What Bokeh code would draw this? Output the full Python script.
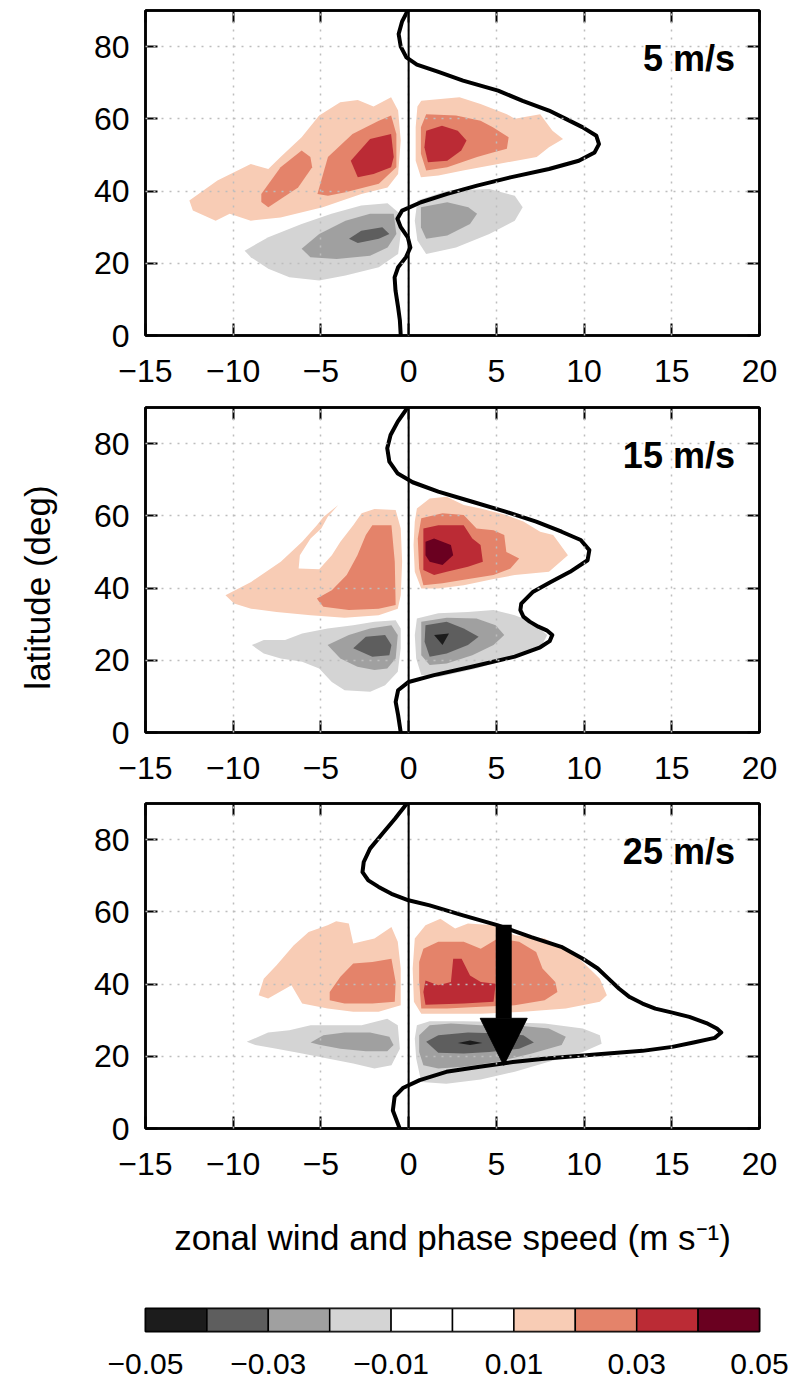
from bokeh.plotting import figure
from bokeh.models import FixedTicker, LinearAxis, Span, Label, Arrow, NormalHead, Range1d
from bokeh.layouts import column
from bokeh.embed import file_html
from bokeh.resources import INLINE

FONT = "Liberation Sans"

# ---------------- data ----------------
X_TICKS = [-15, -10, -5, 0, 5, 10, 15, 20]
X_TICK_LABELS = ["\u221215", "\u221210", "\u22125", "0", "5", "10", "15", "20"]
Y_TICKS = [0, 20, 40, 60, 80]
Y_TICK_LABELS = ["0", "20", "40", "60", "80"]

LEVELS = [-0.05, -0.04, -0.03, -0.02, -0.01, 0.0, 0.01, 0.02, 0.03, 0.04, 0.05]
LEVEL_COLORS = ["#1c1c1c", "#5e5e5e", "#a0a0a0", "#d4d4d4", "#ffffff",
                "#ffffff", "#f8ccb5", "#e4836a", "#bb2b35", "#6a0020"]
CB_TICKS = [-0.05, -0.03, -0.01, 0.01, 0.03, 0.05]
CB_TICK_LABELS = ["\u22120.05", "\u22120.03", "\u22120.01", "0.01", "0.03", "0.05"]

PANEL_LABELS = ["5 m/s", "15 m/s", "25 m/s"]
X_LABEL = "zonal wind and phase speed (m s\u207b\u00b9)"
Y_LABEL = "latitude (deg)"

# zonal-wind profiles (wind in m/s at latitude in deg)
U5_LAT = [90, 87, 83.5, 80, 77, 75, 73, 70.6, 67.8, 65, 62.3, 60, 57.7, 55.3, 53, 50.7,
          48.4, 46.1, 43.8, 41.5, 39.2, 36.9, 34.6, 32.3, 30, 27.2, 24.4, 21.7, 18.9,
          16.1, 12.5, 7.8, 4.2, 0]
U5_WIND = [-0.05, -0.37, -0.57, -0.45, -0.13, 0.47, 1.7, 3.1, 5.1, 6.5, 8.0, 8.96, 9.9,
           10.7, 10.85, 10.6, 9.7, 8.0, 5.8, 3.9, 2.2, 0.7, -0.37, -0.64, -0.45, -0.05,
           0.1, -0.15, -0.6, -0.8, -0.75, -0.6, -0.5, -0.45]

U15_LAT = [90, 86.1, 82.4, 78.7, 75, 71.7, 69.3, 66.7, 63.9, 61.1, 58.4, 55.6, 53.3,
           50.5, 47.7, 44.5, 41.7, 39, 35.7, 33.9, 32.1, 30.7, 29.3, 28.3, 27.0, 25.3,
           23.6, 21, 18.2, 15.9, 14, 11.7, 8.5, 4.8, 0]
U15_WIND = [-0.06, -0.62, -1.03, -1.22, -1.1, -0.62, 0.23, 1.69, 3.63, 5.57, 7.27, 8.72,
            9.81, 10.3, 10.2, 9.2, 8.1, 7.1, 6.42, 6.37, 6.54, 6.9, 7.39, 7.87, 8.19,
            8.04, 7.5, 6.05, 3.6, 1.45, 0.0, -0.6, -0.74, -0.6, -0.45]

U25_LAT = [90, 85.8, 81.6, 77.5, 73.8, 71.0, 68.7, 66.9, 65.0, 63.2, 61.8, 59.0, 56.3,
           53.0, 50.3, 47.0, 44.3, 41.5, 38.7, 36.4, 34.6, 33.2, 32.1, 30.9, 29.2, 27.7,
           26.6, 25.1, 23.8, 22.6, 21.5, 20.6, 19.4, 18.4, 17.1, 15.7, 13.4, 11.2, 8.8,
           5.0, 0]
U25_WIND = [-0.1, -0.78, -1.5, -2.2, -2.56, -2.63, -2.3, -1.71, -0.98, -0.01, 1.2, 3.1,
            5.05, 6.99, 8.7, 9.93, 10.78, 11.39, 12.0, 12.6, 13.33, 14.06, 15.03, 16.0,
            16.97, 17.57, 17.82, 17.45, 16.24, 15.03, 13.33, 11.0, 7.86, 5.94, 4.05, 2.15,
            0.63, -0.33, -0.8, -0.9, -0.51]

# contour regions (phase speed, latitude) for each shading band
U5_POS1 = [
    [(-12.5, 37.4), (-10.9, 42.9), (-9.0, 47.5), (-8.0, 46.1), (-7.3, 49.4), (-6.1, 54.9),
     (-5.1, 60.9), (-3.9, 64.6), (-2.9, 65.2), (-2.0, 63.4), (-1.0, 66.0), (-0.6, 62.3),
     (-0.45, 54.0), (-0.6, 44.7), (-1.2, 41.0), (-2.7, 39.2), (-4.9, 35.5), (-7.3, 32.7),
     (-9.0, 31.8), (-10.2, 33.7), (-11.0, 31.8), (-12.3, 34.6)],
    [(0.72, 65.0), (2.9, 66.0), (4.1, 64.1), (5.6, 61.3), (6.05, 60.0), (7.5, 61.3),
     (8.2, 56.7), (8.8, 54.4), (8.0, 52.1), (7.3, 49.4), (5.1, 47.5), (3.1, 45.7),
     (1.7, 44.3), (0.7, 43.8), (0.4, 48.4), (0.4, 57.7), (0.5, 63.4)],
]
U5_POS2 = [
    [(-8.4, 39.2), (-7.3, 46.6), (-6.1, 51.2), (-5.6, 49.4), (-5.5, 46.6), (-6.3, 41.0),
     (-8.0, 35.5), (-8.4, 37.0)],
    [(-5.2, 39.2), (-4.6, 49.4), (-3.2, 55.8), (-1.7, 59.5), (-1.0, 60.9), (-0.7, 55.8),
     (-0.7, 46.6), (-1.7, 42.0), (-3.6, 39.7), (-4.6, 38.7)],
    [(1.0, 61.3), (2.7, 60.9), (4.1, 59.5), (4.8, 57.7), (5.7, 54.9), (5.6, 51.7),
     (4.8, 50.7), (3.9, 49.4), (2.2, 46.6), (1.0, 45.7), (0.7, 50.3), (0.7, 57.7)],
]
U5_POS3 = [
    [(-3.3, 48.4), (-2.2, 54.4), (-1.0, 55.8), (-0.85, 49.4), (-1.0, 46.6), (-2.0, 44.7),
     (-2.9, 43.8)],
    [(1.0, 56.7), (1.9, 58.1), (2.8, 56.7), (3.3, 54.0), (3.0, 51.2), (2.2, 48.4),
     (1.1, 48.0), (0.9, 52.1)],
]
U5_NEG1 = [
    [(-9.35, 23.5), (-8.0, 27.2), (-6.1, 30.9), (-4.4, 33.7), (-2.7, 36.0), (-1.2, 36.6),
     (-0.5, 33.7), (-0.45, 28.1), (-0.6, 22.6), (-1.7, 18.9), (-3.6, 16.6), (-5.1, 15.2),
     (-6.8, 16.1), (-8.0, 18.5), (-9.0, 21.7)],
    [(0.5, 37.4), (2.2, 40.1), (4.6, 40.6), (6.05, 38.7), (6.5, 35.5), (6.05, 31.8),
     (4.6, 28.1), (2.7, 24.4), (1.0, 22.6), (0.5, 26.3), (0.35, 31.8)],
]
U5_NEG2 = [
    [(-6.1, 24.0), (-5.1, 28.1), (-3.6, 31.8), (-2.2, 33.7), (-0.85, 33.7), (-0.7, 28.1),
     (-1.2, 24.4), (-2.2, 22.1), (-4.1, 21.2), (-5.6, 21.7)],
    [(0.7, 35.5), (2.2, 36.9), (3.4, 35.5), (3.9, 33.7), (3.5, 30.9), (2.2, 27.7),
     (1.0, 26.8), (0.7, 30.0)],
]
U5_NEG3 = [
    [(-3.4, 26.8), (-2.7, 29.0), (-1.5, 30.0), (-1.1, 28.1), (-1.7, 26.8), (-2.9, 25.6)],
]

U15_POS1 = [
    [(-10.44, 38.0), (-8.98, 41.7), (-7.29, 47.3), (-6.07, 52.8), (-5.23, 57.4),
     (-4.86, 59.7), (-4.01, 63.0), (-4.62, 59.7), (-4.98, 56.5), (-5.59, 53.7),
     (-6.2, 49.1), (-6.27, 45.4), (-5.1, 45.2), (-4.38, 49.1), (-3.89, 52.8),
     (-3.16, 57.4), (-2.68, 60.7), (-1.95, 61.9), (-0.74, 61.6), (-0.45, 56.5),
     (-0.37, 47.3), (-0.45, 38.0), (-0.62, 34.3), (-1.71, 32.5), (-3.65, 31.8),
     (-5.59, 32.5), (-7.53, 33.4), (-8.98, 34.3), (-9.95, 35.7)],
    [(0.47, 62.0), (1.2, 64.8), (2.17, 65.3), (3.14, 63.0), (4.1, 62.0), (5.57, 60.2),
     (6.54, 58.4), (7.5, 55.6), (8.24, 54.7), (9.08, 49.1), (8.0, 44.5), (6.05, 43.6),
     (4.84, 42.5), (3.14, 40.8), (1.69, 39.9), (0.72, 39.9), (0.35, 44.5), (0.28, 51.9),
     (0.35, 58.4)],
]
U15_POS2 = [
    [(-5.23, 37.1), (-4.38, 39.4), (-3.53, 43.6), (-2.92, 49.1), (-2.44, 54.7),
     (-2.07, 57.4), (-0.98, 57.4), (-0.79, 47.3), (-0.74, 35.3), (-1.71, 34.3),
     (-3.41, 33.9), (-4.86, 34.8), (-5.1, 36.2)],
    [(0.72, 59.3), (1.93, 60.7), (3.14, 60.2), (3.87, 56.5), (4.84, 56.0), (5.45, 54.7),
     (5.57, 50.0), (6.3, 48.2), (5.8, 45.4), (4.84, 43.6), (3.14, 42.3), (1.93, 41.3),
     (0.84, 40.8), (0.6, 45.4), (0.52, 53.7)],
]
U15_POS3 = [
    [(0.84, 56.5), (1.69, 57.4), (3.14, 57.4), (3.63, 53.7), (4.1, 51.9), (4.23, 47.3),
     (3.38, 45.9), (2.17, 44.5), (1.45, 43.6), (0.84, 45.0), (0.84, 51.0)],
]
U15_POS4 = [
    [(0.96, 52.8), (1.45, 53.7), (2.41, 51.9), (2.54, 49.1), (1.93, 46.4), (1.2, 47.3),
     (0.96, 49.1)],
]
U15_NEG1 = [
    [(-8.94, 24.2), (-8.26, 25.6), (-7.04, 25.6), (-6.07, 27.4), (-4.62, 28.8),
     (-3.16, 29.7), (-1.95, 30.7), (-0.74, 31.1), (-0.45, 28.8), (-0.45, 23.3),
     (-0.62, 16.8), (-1.34, 13.1), (-2.19, 11.3), (-3.65, 11.7), (-4.38, 14.0),
     (-5.1, 17.7), (-6.07, 19.6), (-7.29, 20.5), (-8.26, 21.9)],
    [(0.47, 31.6), (1.69, 33.0), (3.38, 33.4), (4.84, 33.9), (6.05, 32.5), (7.0, 30.7),
     (7.9, 27.0), (7.5, 23.3), (6.05, 21.0), (3.87, 17.7), (1.69, 15.4), (0.72, 15.9),
     (0.43, 20.5), (0.35, 27.0)],
]
U15_NEG2 = [
    [(-4.62, 24.2), (-3.41, 27.0), (-2.2, 28.8), (-0.98, 29.7), (-0.62, 27.0),
     (-0.74, 20.5), (-1.22, 17.7), (-1.95, 17.3), (-2.92, 18.2), (-3.89, 20.5)],
    [(0.72, 30.7), (2.17, 31.8), (3.87, 31.6), (4.96, 29.7), (5.45, 27.0), (4.84, 24.2),
     (3.63, 21.4), (2.17, 19.1), (1.2, 18.7), (0.72, 21.4)],
]
U15_NEG3 = [
    [(-3.16, 23.3), (-2.44, 26.5), (-1.34, 27.0), (-0.98, 24.2), (-1.1, 21.4),
     (-2.07, 21.0)],
    [(0.96, 29.7), (2.17, 30.7), (3.14, 28.8), (3.99, 26.5), (3.38, 24.2), (2.17, 21.9),
     (1.2, 21.0), (0.91, 25.1)],
]
U15_NEG4 = [
    [(1.45, 27.0), (2.3, 27.4), (1.93, 24.2)],
]

U25_POS1 = [
    [(-8.55, 36.9), (-8.26, 41.5), (-7.53, 45.2), (-6.56, 50.7), (-5.7, 54.4),
     (-4.62, 56.3), (-4.13, 57.4), (-3.41, 56.8), (-3.16, 51.2), (-1.95, 52.6),
     (-0.98, 55.8), (-0.62, 51.7), (-0.45, 44.3), (-0.45, 34.1), (-1.71, 32.3),
     (-3.16, 32.3), (-4.62, 33.2), (-6.07, 34.6), (-6.68, 39.7), (-8.01, 36.0)],
    [(0.35, 52.6), (0.96, 56.3), (1.81, 58.1), (2.65, 55.4), (3.38, 56.8), (4.84, 56.3),
     (6.05, 53.5), (7.75, 52.6), (8.96, 49.8), (9.93, 46.1), (10.9, 41.5), (11.3, 36.9),
     (10.9, 35.1), (8.96, 33.2), (6.54, 32.3), (4.11, 31.8), (2.17, 31.8), (0.72, 31.8),
     (0.3, 35.1), (0.23, 44.3)],
]
U25_POS2 = [
    [(-4.5, 37.8), (-3.89, 42.0), (-3.16, 45.7), (-2.07, 46.1), (-0.98, 47.0),
     (-0.74, 40.6), (-0.79, 35.1), (-2.07, 34.6), (-3.65, 34.6), (-4.5, 35.5)],
    [(0.84, 49.8), (1.69, 51.7), (3.14, 51.7), (4.11, 49.8), (5.08, 52.6), (6.3, 51.7),
     (7.27, 48.9), (7.63, 44.3), (8.36, 40.6), (8.48, 37.8), (7.75, 35.5), (6.05, 34.1),
     (4.11, 33.7), (2.17, 33.2), (0.72, 33.2), (0.6, 40.6), (0.6, 46.1)],
]
U25_POS3 = [
    [(0.96, 41.0), (1.69, 39.7), (2.41, 40.6), (2.54, 47.0), (3.02, 47.0), (3.5, 42.4),
     (4.11, 40.6), (4.96, 40.1), (4.84, 35.1), (3.14, 34.6), (0.96, 34.3), (0.84, 37.8)],
]
U25_NEG1 = [
    [(-9.23, 24.0), (-8.01, 26.6), (-6.8, 27.2), (-5.59, 28.6), (-4.13, 28.6),
     (-2.68, 28.6), (-1.22, 30.4), (-0.62, 28.6), (-0.5, 22.1), (-0.98, 17.5),
     (-1.95, 16.6), (-3.16, 18.0), (-4.62, 19.4), (-6.07, 20.8), (-7.53, 22.1),
     (-8.74, 23.1)],
    [(0.47, 28.6), (1.2, 29.7), (3.14, 29.7), (5.33, 29.5), (7.75, 29.1), (9.93, 27.7),
     (10.9, 25.8), (11.0, 23.5), (9.93, 21.2), (7.99, 18.5), (6.05, 15.7), (4.11, 13.6),
     (2.15, 12.4), (0.72, 12.9), (0.43, 19.4), (0.35, 24.9)],
]
U25_NEG2 = [
    [(-5.59, 23.8), (-4.86, 25.8), (-3.65, 26.6), (-2.2, 26.6), (-1.1, 25.4),
     (-0.86, 23.1), (-1.22, 21.4), (-2.44, 21.4), (-3.89, 22.1), (-5.1, 23.2)],
    [(0.6, 25.8), (1.2, 28.6), (2.41, 29.1), (4.11, 28.6), (6.05, 28.6), (7.99, 27.7),
     (8.96, 25.4), (8.72, 23.1), (7.02, 20.8), (5.08, 18.5), (3.14, 17.1), (1.69, 16.6),
     (0.84, 17.5), (0.6, 21.2)],
]
U25_NEG3 = [
    [(1.0, 24.0), (1.69, 25.8), (3.38, 26.6), (5.33, 26.3), (6.54, 25.8), (7.14, 23.8),
     (6.3, 22.1), (4.6, 21.2), (3.14, 20.8), (1.69, 21.0)],
]
U25_NEG4 = [
    [(2.8, 23.7), (3.5, 24.4), (4.2, 23.7), (3.5, 23.1)],
]

# arrow in the 25 m/s panel (phase speed, latitude)
ARROW_X = 5.42
ARROW_Y_START = 56.4
ARROW_Y_END = 17.5

# ---------------- drawing ----------------
def style_axis(ax, ticks, overrides, show_labels, standoff=0):
    ax.ticker = FixedTicker(ticks=ticks)
    ax.axis_line_color = "black"
    ax.axis_line_width = 2.5
    ax.major_tick_in = 12
    ax.major_tick_out = 0
    ax.major_tick_line_color = "black"
    ax.major_tick_line_width = 2
    ax.minor_tick_line_color = None
    if show_labels:
        ax.major_label_overrides = overrides
        ax.major_label_text_font = FONT
        ax.major_label_text_font_size = "32px"
        ax.major_label_text_color = "black"
        ax.major_label_standoff = standoff
    else:
        ax.major_label_text_font_size = "0px"
        ax.major_label_text_alpha = 0
        ax.major_label_standoff = 0


def make_panel(height, top, bottom, pos_sets, neg_sets, lat, wind, label):
    p = figure(width=808, height=height, x_range=Range1d(-15, 20), y_range=Range1d(0, 90),
               output_backend="svg", toolbar_location=None,
               min_border_left=145, min_border_right=49,
               min_border_top=top, min_border_bottom=bottom,
               background_fill_color="white", border_fill_color="white")
    p.outline_line_color = "black"
    p.outline_line_width = 2.5

    for k, polys in enumerate(neg_sets, start=1):
        p.patches(xs=[[pt[0] for pt in poly] for poly in polys],
                  ys=[[pt[1] for pt in poly] for poly in polys],
                  fill_color=LEVEL_COLORS[4 - k], line_color=None)
    for k, polys in enumerate(pos_sets, start=1):
        p.patches(xs=[[pt[0] for pt in poly] for poly in polys],
                  ys=[[pt[1] for pt in poly] for poly in polys],
                  fill_color=LEVEL_COLORS[5 + k], line_color=None)

    p.add_layout(Span(location=0, dimension="height", line_color="black", line_width=2))
    p.line(wind, lat, line_color="black", line_width=4, line_join="round")

    p.add_layout(Label(x=18.6, y=76.7, text=label, text_align="right",
                       text_baseline="alphabetic", text_font=FONT,
                       text_font_style="bold", text_font_size="36px",
                       text_color="black"))

    xb = p.below[0]
    yl = p.left[0]
    style_axis(xb, X_TICKS, dict(zip(X_TICKS, X_TICK_LABELS)), True, 24)
    style_axis(yl, Y_TICKS, dict(zip(Y_TICKS, Y_TICK_LABELS)), True, 16)
    ax_top = LinearAxis()
    style_axis(ax_top, X_TICKS, {}, False)
    ax_right = LinearAxis()
    style_axis(ax_right, Y_TICKS, {}, False)
    p.add_layout(ax_top, "above")
    p.add_layout(ax_right, "right")

    for g, t in ((p.xgrid[0], X_TICKS), (p.ygrid[0], Y_TICKS)):
        g.ticker = FixedTicker(ticks=t)
        g.grid_line_color = "#bdbdbd"
        g.grid_line_dash = "2 6"
        g.grid_line_width = 1.5
        g.level = "guide"
    return p, xb, yl


p1, _, _ = make_panel(400, 10, 65, [U5_POS1, U5_POS2, U5_POS3],
                      [U5_NEG1, U5_NEG2, U5_NEG3], U5_LAT, U5_WIND, PANEL_LABELS[0])
p2, _, ya = make_panel(397, 7, 65, [U15_POS1, U15_POS2, U15_POS3, U15_POS4],
                       [U15_NEG1, U15_NEG2, U15_NEG3, U15_NEG4],
                       U15_LAT, U15_WIND, PANEL_LABELS[1])
p3, xa, _ = make_panel(476, 6, 145, [U25_POS1, U25_POS2, U25_POS3],
                       [U25_NEG1, U25_NEG2, U25_NEG3, U25_NEG4],
                       U25_LAT, U25_WIND, PANEL_LABELS[2])

# y label on the middle panel (em space keeps it slightly below centre, as drawn)
ya.axis_label = Y_LABEL + "\u2003"
ya.axis_label_text_font = FONT
ya.axis_label_text_font_size = "35px"
ya.axis_label_text_font_style = "normal"
ya.axis_label_text_color = "black"
ya.axis_label_standoff = 34

# x label under the bottom panel
xa.axis_label = X_LABEL
xa.axis_label_text_font = FONT
xa.axis_label_text_font_size = "35px"
xa.axis_label_text_font_style = "normal"
xa.axis_label_text_color = "black"
xa.axis_label_standoff = 40

p3.add_layout(Arrow(end=NormalHead(size=47, fill_color="black", line_color="black",
                                   line_width=1),
                    x_start=ARROW_X, y_start=ARROW_Y_START, x_end=ARROW_X, y_end=ARROW_Y_END,
                    line_color="black", line_width=16))

# colour bar
cb = figure(width=808, height=110, x_range=Range1d(LEVELS[0], LEVELS[-1]),
            y_range=Range1d(0, 1), output_backend="svg", toolbar_location=None,
            min_border_left=145, min_border_right=49, min_border_top=35,
            min_border_bottom=52, background_fill_color="white", border_fill_color="white")
cb.quad(left=LEVELS[:-1], right=LEVELS[1:], bottom=0, top=1, fill_color=LEVEL_COLORS,
        line_color="black", line_width=1.5)
cb.outline_line_color = "black"
cb.outline_line_width = 2
cb.yaxis.visible = False
cb.xgrid.visible = False
cb.ygrid.visible = False
cbx = cb.below[0]
cbx.ticker = FixedTicker(ticks=CB_TICKS)
cbx.major_label_overrides = dict(zip(CB_TICKS, CB_TICK_LABELS))
cbx.axis_line_color = None
cbx.major_tick_line_color = None
cbx.minor_tick_line_color = None
cbx.major_label_text_font = FONT
cbx.major_label_text_font_size = "30px"
cbx.major_label_text_color = "black"
cbx.major_label_standoff = 16

layout = column(p1, p2, p3, cb, spacing=0)
open("out.html", "w").write(file_html(layout, INLINE))
